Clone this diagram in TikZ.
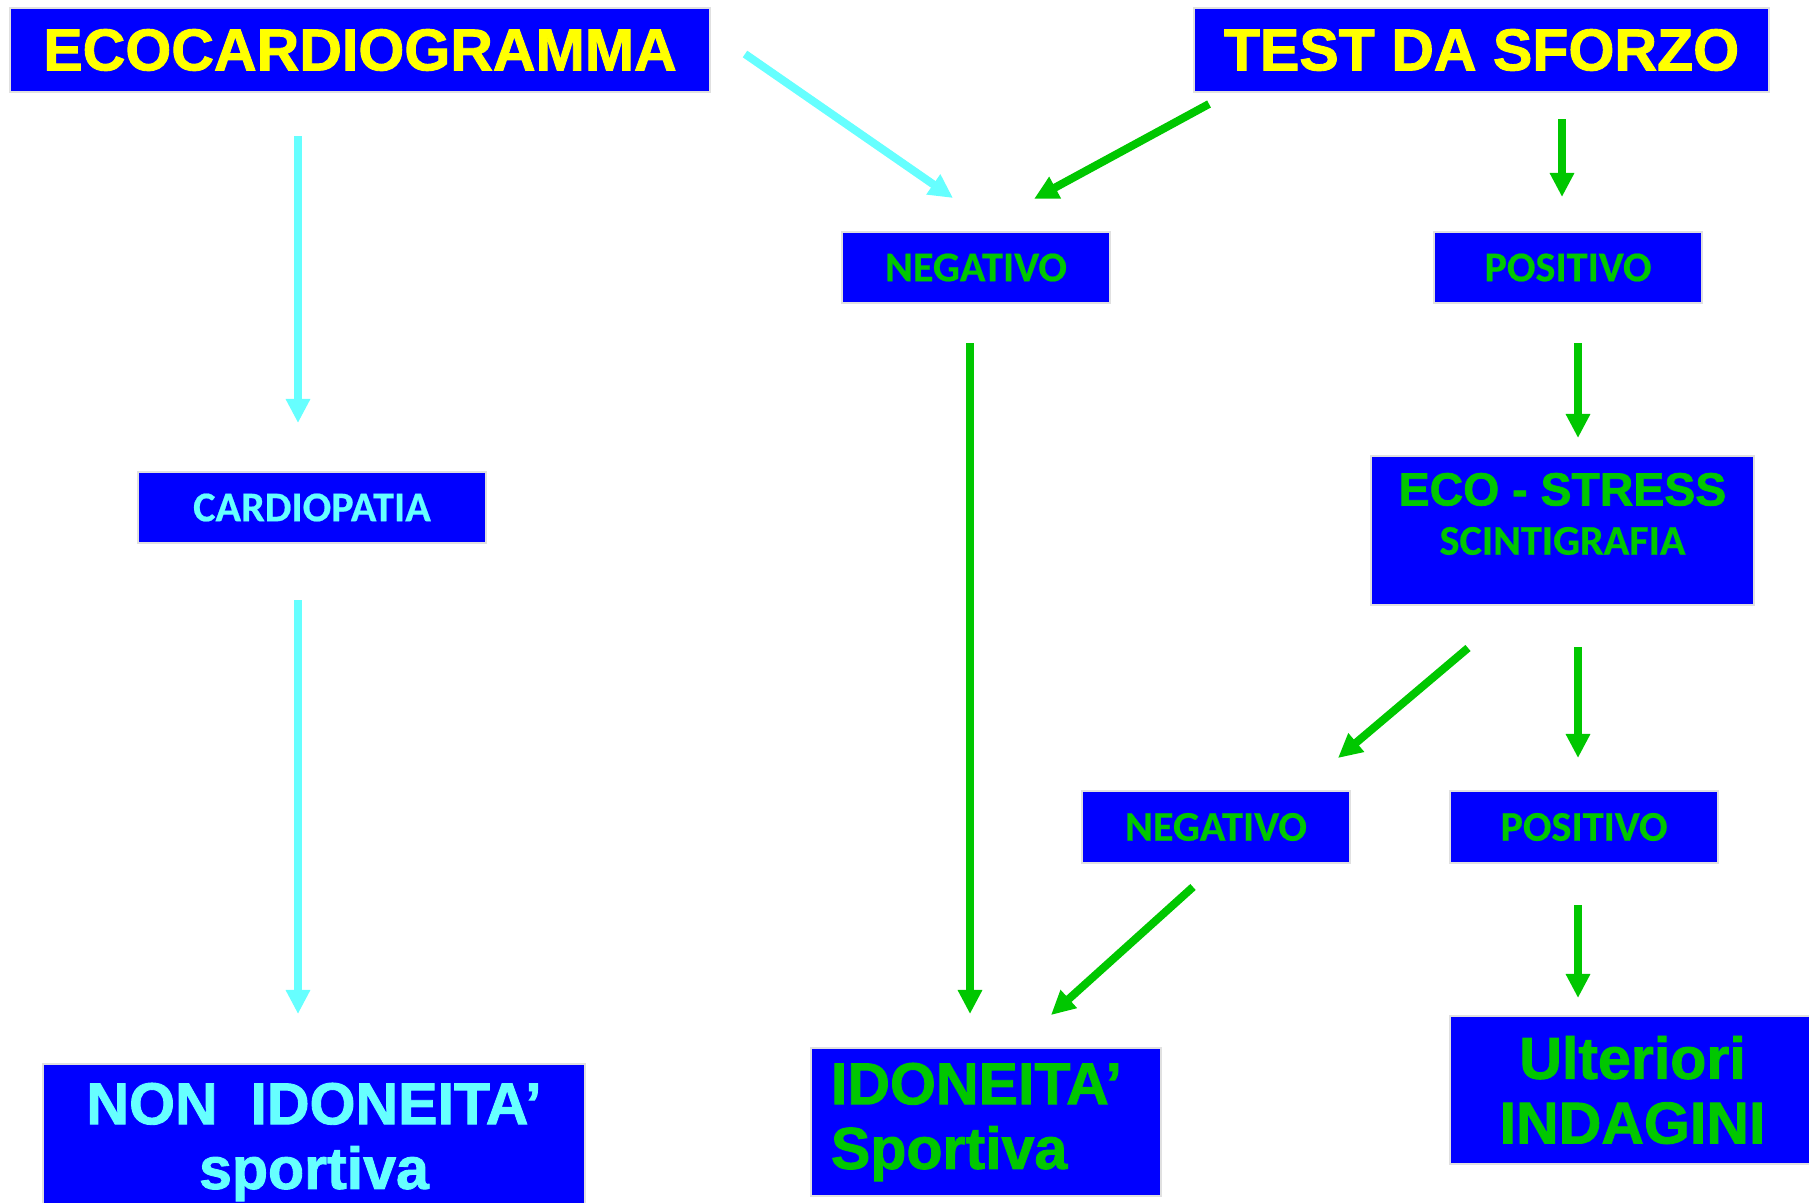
\documentclass[tikz,border=0pt]{standalone}
\usepackage{fontspec}
\setmainfont{Liberation Sans}
\newfontfamily\heavy{Liberation Sans Bold}[FakeBold=1.5]
\newfontfamily\calibri{Carlito Bold}[FakeBold=0.5]
\usetikzlibrary{arrows.meta}

\begin{document}
\begin{tikzpicture}[x=0.01cm,y=-0.01cm,>={Triangle[length=0.24cm,width=0.23cm]},
  box/.style={draw=boxgrey,line width=0.025cm,fill=boxblue,inner sep=0pt},
  bigtext/.style={font=\fontsize{16.8}{18.4}\selectfont\heavy},
  smalltext/.style={font=\fontsize{12}{13}\selectfont\calibri},
  cyanarrow/.style={->,draw=arrowcyan,fill=arrowcyan,line width=0.08cm},
  greenarrow/.style={->,draw=arrowgreen,fill=arrowgreen,line width=0.08cm}]

\definecolor{boxblue}{rgb}{0,0,1}
\definecolor{boxgrey}{rgb}{0.88,0.88,0.88}
\definecolor{txtyellow}{rgb}{1,1,0}
\definecolor{arrowcyan}{rgb}{0.4,1,1}
\definecolor{arrowgreen}{rgb}{0,0.78,0}

\useasboundingbox (0,0) rectangle (1809,1203);
\clip (0,0) rectangle (1809,1203);

% top row
\node[box,minimum width=7cm,minimum height=0.84cm,bigtext,text=txtyellow](eco) at (360,50){ECOCARDIOGRAMMA};
\node[box,minimum width=5.75cm,minimum height=0.84cm,bigtext,text=txtyellow](test) at (1481.5,50){TEST DA SFORZO};

% first results
\node[box,minimum width=2.68cm,minimum height=0.71cm,smalltext,text=arrowgreen](neg) at (976,267.5){NEGATIVO};
\node[box,minimum width=2.68cm,minimum height=0.71cm,smalltext,text=arrowgreen](pos) at (1568,267.5){POSITIVO};
\node[box,minimum width=3.48cm,minimum height=0.71cm,smalltext,text=arrowcyan](cardio) at (312,507.5){CARDIOPATIA};

% second level
\node[box,minimum width=3.83cm,minimum height=1.49cm](stress) at (1562.5,530.5){};
\node[align=center,text=arrowgreen,inner sep=0pt](stresstext) at (1562.5,514)
  {{\fontsize{13.2}{14}\selectfont\heavy ECO - STRESS}\\[2pt]{\fontsize{12}{13}\selectfont\calibri SCINTIGRAFIA}};
\node[box,minimum width=2.68cm,minimum height=0.72cm,smalltext,text=arrowgreen](negb) at (1216,827){NEGATIVO};
\node[box,minimum width=2.68cm,minimum height=0.72cm,smalltext,text=arrowgreen](posb) at (1584,827){POSITIVO};

% outcomes
\node[box,minimum width=5.42cm,minimum height=1.56cm,bigtext,text=arrowcyan,align=center](nonid) at (314,1142){NON~~IDONEITA’\\sportiva};
\node[box,minimum width=3.5cm,minimum height=1.48cm,text width=3.1cm,bigtext,text=arrowgreen,align=left](idon) at (986,1122){IDONEITA’\\Sportiva};
\node[box,minimum width=3.65cm,minimum height=1.48cm,bigtext,text=arrowgreen,align=center](ult) at (1632.5,1090){Ulteriori\\INDAGINI};

% arrow ends
\coordinate (ecoR) at (745,54);
\coordinate (ecoD) at (298,136);
\coordinate (negU) at (953,198);
\coordinate (testL) at (1209,104);
\coordinate (negU2) at (1034,199);
\coordinate (testD) at (1562,119);
\coordinate (posU) at (1562,197);
\coordinate (cardioU) at (298,423);
\coordinate (cardioD) at (298,600);
\coordinate (nonidU) at (298,1014);
\coordinate (negD) at (970,343);
\coordinate (idonU) at (970,1014);
\coordinate (posD) at (1578,343);
\coordinate (stressU) at (1578,438);
\coordinate (stressL) at (1468,648);
\coordinate (negbU) at (1338,758);
\coordinate (stressD) at (1578,647);
\coordinate (posbU) at (1578,758);
\coordinate (negbD) at (1193,887);
\coordinate (idonU2) at (1051,1015);
\coordinate (posbD) at (1578,905);
\coordinate (ultU) at (1578,998);

% connectors
\draw[cyanarrow](ecoR)--(negU);
\draw[cyanarrow](ecoD)--(cardioU);
\draw[cyanarrow](cardioD)--(nonidU);
\draw[greenarrow](testL)--(negU2);
\draw[greenarrow](testD)--(posU);
\draw[greenarrow](negD)--(idonU);
\draw[greenarrow](posD)--(stressU);
\draw[greenarrow](stressL)--(negbU);
\draw[greenarrow](stressD)--(posbU);
\draw[greenarrow](negbD)--(idonU2);
\draw[greenarrow](posbD)--(ultU);

\end{tikzpicture}
\end{document}
